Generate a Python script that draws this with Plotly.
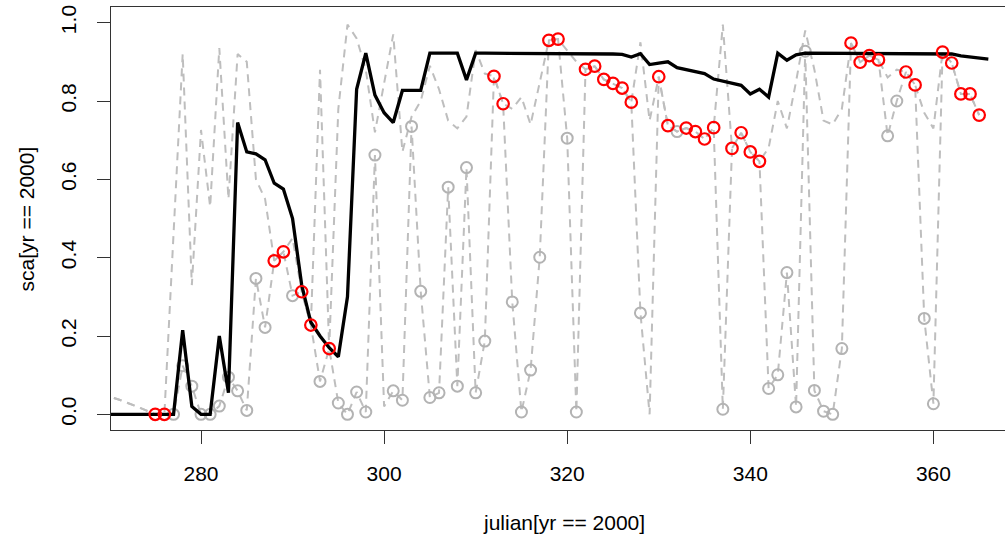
import plotly.graph_objects as go

# ---- data -------------------------------------------------------------
days = list(range(269, 366))  # 269..365

# upper dashed gray series (per day)
upper = [0.05, 0.045, 0.038, 0.03, 0.02, 0.01, 0.0, 0.0, 0.47, 0.92,   # 269-278
         0.33, 0.726, 0.53, 0.935, 0.55, 0.92, 0.90, 0.60, 0.55, 0.392,  # 279-288
         0.415, 0.45, 0.313, 0.228, 0.88, 0.168, 0.78, 0.995, 0.96, 0.88, # 289-298
         0.72, 0.85, 0.97, 0.67, 0.76, 0.80, 0.89, 0.83, 0.75, 0.73,     # 299-308
         0.76, 0.93, 0.87, 0.863, 0.793, 0.78, 0.81, 0.74, 0.85, 0.955,  # 309-318
         0.958, 0.93, 0.90, 0.881, 0.889, 0.855, 0.845, 0.833, 0.797, 0.95, # 319-328
         0.75, 0.862, 0.737, 0.722, 0.731, 0.722, 0.703, 0.732, 0.995, 0.679, # 329-338
         0.719, 0.670, 0.646, 0.68, 0.80, 0.73, 0.85, 0.98, 0.88, 0.75,  # 339-348
         0.74, 0.78, 0.948, 0.899, 0.916, 0.905, 0.86, 0.88, 0.874, 0.841, # 349-358
         0.77, 0.73, 0.925, 0.897, 0.818, 0.818, 0.764]                  # 359-365

# lower dashed gray series (per day)
lower = [0.05, 0.045, 0.038, 0.03, 0.02, 0.01, 0.0, 0.0, 0.0, 0.124,    # 269-278
         0.072, 0.0, 0.0, 0.021, 0.095, 0.060, 0.010, 0.347, 0.222, 0.392, # 279-288
         0.415, 0.303, 0.313, 0.228, 0.084, 0.168, 0.029, 0.0, 0.057, 0.006, # 289-298
         0.662, 0.02, 0.060, 0.036, 0.735, 0.314, 0.043, 0.055, 0.580, 0.072, # 299-308
         0.630, 0.055, 0.187, 0.863, 0.793, 0.287, 0.006, 0.113, 0.401, 0.955, # 309-318
         0.958, 0.705, 0.006, 0.881, 0.889, 0.855, 0.845, 0.833, 0.797, 0.259, # 319-328
         0.0, 0.862, 0.737, 0.722, 0.731, 0.722, 0.703, 0.732, 0.013, 0.679, # 329-338
         0.719, 0.670, 0.646, 0.066, 0.101, 0.362, 0.019, 0.927, 0.061, 0.008, # 339-348
         0.0, 0.168, 0.948, 0.899, 0.916, 0.905, 0.711, 0.800, 0.874, 0.841, # 349-358
         0.245, 0.027, 0.925, 0.897, 0.818, 0.818, 0.764]                # 359-365

# smoothed estimate (black line)
smooth_days = list(range(269, 367))
smooth = [0, 0, 0, 0, 0, 0, 0, 0, 0, 0.215,                              # 269-278
          0.02, 0.0, 0.0, 0.20, 0.055, 0.745, 0.67, 0.665, 0.65, 0.59,   # 279-288
          0.575, 0.50, 0.33, 0.235, 0.20, 0.17, 0.147, 0.30, 0.83, 0.922, # 289-298
          0.815, 0.77, 0.745, 0.827, 0.827, 0.827, 0.922, 0.922, 0.922, 0.922, # 299-308
          0.854, 0.922, 0.922, 0.922, 0.921, 0.922, 0.922, 0.921, 0.922, 0.922, # 309-318
          0.922, 0.921, 0.921, 0.921, 0.920, 0.920, 0.920, 0.919, 0.912, 0.921, # 319-328
          0.893, 0.897, 0.90, 0.885, 0.88, 0.875, 0.87, 0.856, 0.85, 0.846, # 329-338
          0.84, 0.818, 0.83, 0.81, 0.922, 0.904, 0.918, 0.922, 0.922, 0.922, # 339-348
          0.922, 0.922, 0.922, 0.922, 0.922, 0.922, 0.922, 0.922, 0.922, 0.922, # 349-358
          0.922, 0.922, 0.922, 0.92, 0.915, 0.912, 0.91, 0.907]          # 359-366

# clear-sky observations (red circles)
clear_days = [275, 276, 288, 289, 291, 292, 294, 312, 313, 318, 319, 322, 323,
              324, 325, 326, 327, 330, 331, 333, 334, 335, 336, 338, 339, 340,
              341, 351, 352, 353, 354, 357, 358, 361, 362, 363, 364, 365]
clear_vals = [0.0, 0.0, 0.392, 0.415, 0.313, 0.228, 0.168, 0.863, 0.793, 0.955,
              0.958, 0.881, 0.889, 0.855, 0.845, 0.833, 0.797, 0.862, 0.737,
              0.731, 0.722, 0.703, 0.732, 0.679, 0.719, 0.670, 0.646, 0.948,
              0.899, 0.916, 0.905, 0.874, 0.841, 0.925, 0.897, 0.818, 0.818, 0.764]

# cloudy observations (gray circles)
cloud_days = [277, 278, 279, 280, 281, 282, 283, 284, 285, 286, 287, 290, 293,
              295, 296, 297, 298, 299, 301, 302, 303, 304, 305, 306, 307, 308,
              309, 310, 311, 314, 315, 316, 317, 320, 321, 328, 332, 337, 342,
              343, 344, 345, 346, 347, 348, 349, 350, 355, 356, 359, 360]
cloud_vals = [0.0, 0.124, 0.072, 0.0, 0.0, 0.021, 0.095, 0.060, 0.010, 0.347,
              0.222, 0.303, 0.084, 0.029, 0.0, 0.057, 0.006, 0.662, 0.060, 0.036,
              0.735, 0.314, 0.043, 0.055, 0.580, 0.072, 0.630, 0.055, 0.187,
              0.287, 0.006, 0.113, 0.401, 0.705, 0.006, 0.259, 0.722, 0.013,
              0.066, 0.101, 0.362, 0.019, 0.927, 0.061, 0.008, 0.0, 0.168,
              0.711, 0.800, 0.245, 0.027]

x_ticks = [280, 300, 320, 340, 360]
y_ticks = [0.0, 0.2, 0.4, 0.6, 0.8, 1.0]
y_tick_text = ["0.0", "0.2", "0.4", "0.6", "0.8", "1.0"]

GRAY = "#BEBEBE"
FONT = "Liberation Sans, Arial, sans-serif"

fig = go.Figure()
fig.add_trace(go.Scatter(x=days, y=upper, mode="lines",
                         line=dict(color=GRAY, width=2, dash="8px,6px"),
                         hoverinfo="skip"))
fig.add_trace(go.Scatter(x=days, y=lower, mode="lines",
                         line=dict(color=GRAY, width=2, dash="8px,6px"),
                         hoverinfo="skip"))
fig.add_trace(go.Scatter(x=cloud_days, y=cloud_vals, mode="markers",
                         marker=dict(symbol="circle-open", size=11,
                                     line=dict(color="#B3B3B3", width=2),
                                     color="#B3B3B3")))
fig.add_trace(go.Scatter(x=smooth_days, y=smooth, mode="lines",
                         line=dict(color="black", width=3.3)))
fig.add_trace(go.Scatter(x=clear_days, y=clear_vals, mode="markers",
                         marker=dict(symbol="circle-open", size=11.5,
                                     line=dict(color="#FF0000", width=2.2),
                                     color="#FF0000")))

fig.update_layout(
    width=1005, height=537,
    margin=dict(l=111, r=0, t=7, b=107, autoexpand=False),
    paper_bgcolor="white", plot_bgcolor="white",
    showlegend=False,
    font=dict(family=FONT, size=21, color="black"),
    xaxis=dict(range=[270.17, 367.82], tickvals=x_ticks, automargin=False,
               ticks="outside", ticklen=13, tickwidth=1, tickcolor="#333",
               showline=True, linecolor="#333", linewidth=1.3, mirror=True,
               showgrid=False, zeroline=False, ticklabelstandoff=12,
               tickfont=dict(size=21)),
    yaxis=dict(range=[-0.04, 1.04], tickvals=y_ticks, ticktext=y_tick_text,
               automargin=False,
               ticks="outside", ticklen=13, tickwidth=1, tickcolor="#333",
               showline=True, linecolor="#333", linewidth=1.3,
               showgrid=False, zeroline=False, tickangle=-90,
               ticklabelstandoff=12, tickfont=dict(size=21)),
    annotations=[
        dict(text="julian[yr == 2000]", xref="paper", yref="paper",
             x=0.507, y=-0.219, showarrow=False, xanchor="center",
             yanchor="middle", font=dict(size=21)),
        dict(text="sca[yr == 2000]", xref="paper", yref="paper",
             x=-0.094, y=0.5, showarrow=False, textangle=-90,
             xanchor="center", yanchor="middle", font=dict(size=21)),
    ],
)

fig.write_html("out.html",
               config={"displayModeBar": False},
               post_script="document.body.style.margin='0px';"
                           "document.body.style.overflow='hidden';")
